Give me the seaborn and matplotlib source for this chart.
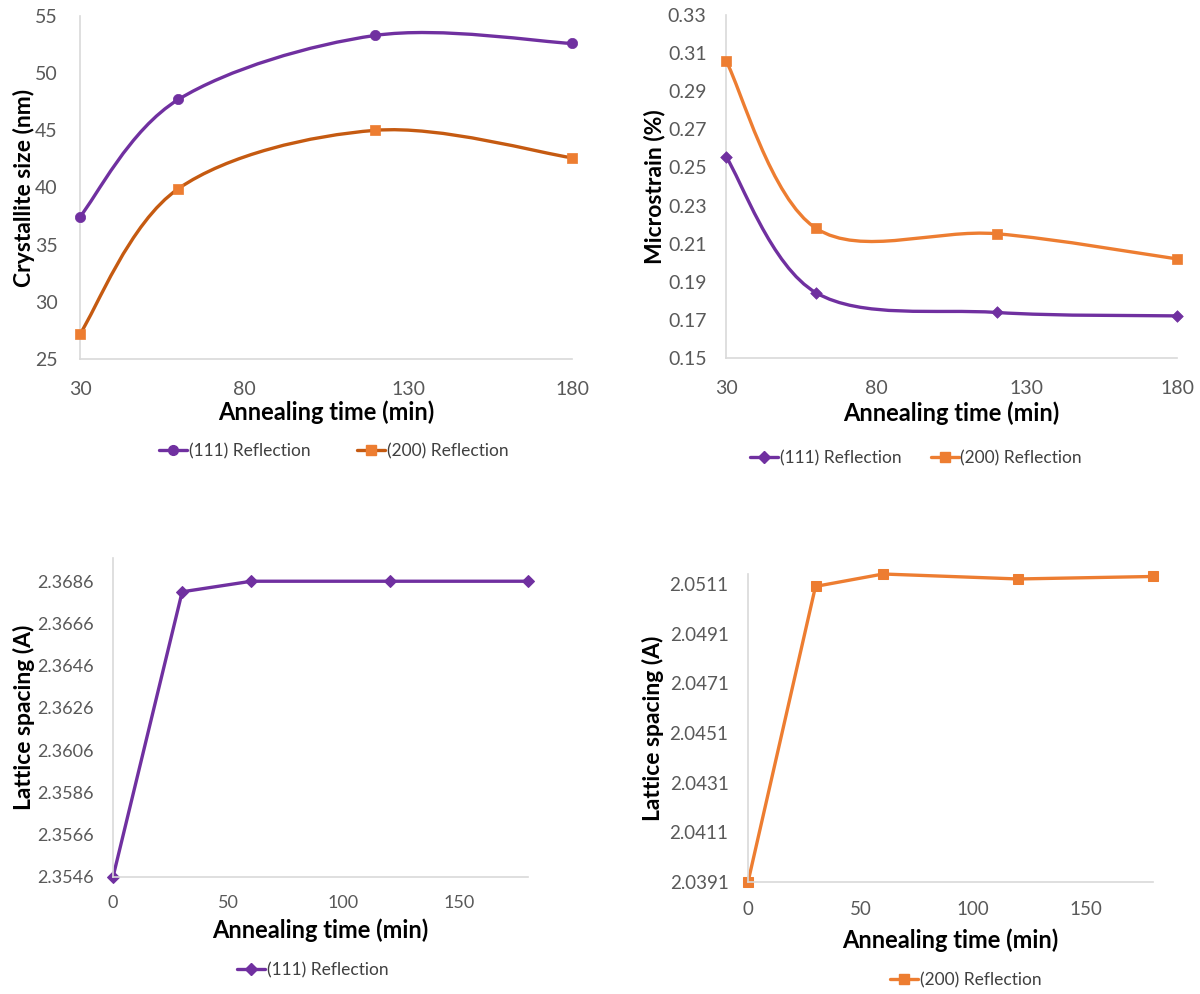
import numpy as np
import matplotlib
matplotlib.use("Agg")
import matplotlib.pyplot as plt
from matplotlib.path import Path
from matplotlib.patches import PathPatch
from matplotlib.lines import Line2D
import seaborn as sns

# ---- data -------------------------------------------------------------
time_top = [30, 60, 120, 180]
size_111 = [37.45, 47.7, 53.3, 52.6]
size_200 = [27.2, 39.9, 45.0, 42.6]
strain_111 = [0.2557, 0.1842, 0.1739, 0.1721]
strain_200 = [0.306, 0.218, 0.2152, 0.2020]

time_bottom = [0, 30, 60, 120, 180]
spacing_111 = [2.3546, 2.3681, 2.3686, 2.3686, 2.3686]
spacing_200 = [2.0391, 2.0510, 2.0515, 2.0513, 2.0514]

series_labels = ["(111) Reflection", "(200) Reflection"]
x_title = "Annealing time (min)"
y_titles = ["Crystallite size (nm)", "Microstrain (%)",
            "Lattice spacing (A)", "Lattice spacing (A)"]

top_xticks = [30, 80, 130, 180]
bottom_xticks = [0, 50, 100, 150]
size_ticks = [25, 30, 35, 40, 45, 50, 55]
strain_ticks = [0.15, 0.17, 0.19, 0.21, 0.23, 0.25, 0.27, 0.29, 0.31, 0.33]
spacing_111_ticks = [2.3546, 2.3566, 2.3586, 2.3606, 2.3626, 2.3646, 2.3666, 2.3686]
spacing_200_ticks = [2.0391, 2.0411, 2.0431, 2.0451, 2.0471, 2.0491, 2.0511]

# ---- style ------------------------------------------------------------
PURPLE = "#7030A0"
ORANGE = "#ED7D31"
BURNT = "#C55A11"
TICK_GREY = "#595959"
LEGEND_GREY = "#404040"
AXIS_GREY = "#D9D9D9"

W, H = 1200, 994
sns.set_theme(style="white")
plt.rcParams["font.family"] = ["Lato", "DejaVu Sans"]

fig = plt.figure(figsize=(W / 100, H / 100), dpi=100)


def px_axes(left, top, right, bottom):
    return fig.add_axes([left / W, 1 - bottom / H, (right - left) / W, (bottom - top) / H])


def smooth_path(x, y):
    """Bezier path through the points with Catmull-Rom style tangents."""
    pts = np.column_stack([x, y]).astype(float)
    n = len(pts)
    verts = [pts[0]]
    codes = [Path.MOVETO]
    for i in range(n - 1):
        p_prev = pts[max(i - 1, 0)]
        p0, p1 = pts[i], pts[i + 1]
        p_next = pts[min(i + 2, n - 1)]
        verts += [p0 + (p1 - p_prev) / 6, p1 - (p_next - p0) / 6, p1]
        codes += [Path.CURVE4] * 3
    return Path(verts, codes)


def style_axes(ax, xlim, xticks, ylim, yticks, fmt, xpad, ypad, size=14):
    ax.set_xlim(xlim)
    ax.set_ylim(ylim)
    ax.set_xticks(xticks)
    ax.set_yticks(yticks)
    ax.set_yticklabels([fmt.format(v) for v in yticks])
    for s in ["top", "right"]:
        ax.spines[s].set_visible(False)
    for s in ["left", "bottom"]:
        ax.spines[s].set_color(AXIS_GREY)
        ax.spines[s].set_linewidth(1.2)
    ax.tick_params(axis="both", length=0, labelsize=size, labelcolor=TICK_GREY)
    ax.tick_params(axis="x", pad=xpad)
    ax.tick_params(axis="y", pad=ypad)
    ax.grid(False)


def titles(ax, ylabel, ylab_x, xlab_y):
    ax.set_xlabel(x_title, fontsize=17, fontweight="bold", color="black")
    ax.set_ylabel(ylabel, fontsize=16.5, fontweight="bold", color="black")
    bb = ax.get_position()
    ax.xaxis.set_label_coords((bb.x0 + bb.x1) / 2, 1 - xlab_y / H, transform=fig.transFigure)
    ax.yaxis.set_label_coords(ylab_x / W, (bb.y0 + bb.y1) / 2, transform=fig.transFigure)
    ax.xaxis.label.set_va("center")
    ax.yaxis.label.set_va("center")


def smooth_series(ax, x, y, line_color, marker, marker_color, msize):
    ax.add_patch(PathPatch(smooth_path(x, y), fill=False, edgecolor=line_color,
                           lw=2.4, capstyle="round", joinstyle="round", zorder=2))
    sns.scatterplot(x=x, y=y, ax=ax, marker=marker, s=msize, color=marker_color,
                    edgecolor=marker_color, linewidth=0.5, zorder=3, clip_on=False,
                    legend=False)


def legend_handle(line_color, marker, marker_color, msize):
    return Line2D([], [], color=line_color, lw=2.4, marker=marker, markersize=msize,
                  markerfacecolor=marker_color, markeredgecolor=marker_color)


def place_legend(handles, labels, cx, cy, spacing=2.0):
    fig.legend(handles, labels, loc="center", bbox_to_anchor=(cx / W, 1 - cy / H),
               ncol=len(handles), frameon=False, fontsize=12.5, handlelength=1.6,
               handletextpad=0.1, columnspacing=spacing, labelcolor=LEGEND_GREY)


# ---- crystallite size -------------------------------------------------
ax1 = px_axes(80, 16, 572, 359)
smooth_series(ax1, time_top, size_111, PURPLE, "o", PURPLE, 55)
smooth_series(ax1, time_top, size_200, BURNT, "s", ORANGE, 50)
style_axes(ax1, (30, 180), top_xticks, (25, 55), size_ticks, "{:.0f}", 16, 16)
titles(ax1, y_titles[0], 24, 412)
place_legend([legend_handle(PURPLE, "o", PURPLE, 7), legend_handle(BURNT, "s", ORANGE, 7)],
             series_labels, 334, 451, spacing=2.7)

# ---- microstrain ------------------------------------------------------
ax2 = px_axes(726, 15, 1177, 358)
smooth_series(ax2, time_top, strain_111, PURPLE, "D", PURPLE, 35)
smooth_series(ax2, time_top, strain_200, ORANGE, "s", ORANGE, 50)
style_axes(ax2, (30, 180), top_xticks, (0.15, 0.33), strain_ticks, "{:.2f}", 16, 14)
titles(ax2, y_titles[1], 655, 413)
place_legend([legend_handle(PURPLE, "D", PURPLE, 6), legend_handle(ORANGE, "s", ORANGE, 7)],
             series_labels, 916, 458, spacing=1.7)

# ---- lattice spacing (111) -------------------------------------------
ax3 = px_axes(113, 558, 528, 877)
sns.lineplot(x=time_bottom, y=spacing_111, ax=ax3, color=PURPLE, lw=2.4, marker="D",
             markersize=6, markeredgecolor=PURPLE, clip_on=False, legend=False)
style_axes(ax3, (0, 180), bottom_xticks, (2.3546, 2.3697), spacing_111_ticks,
           "{:.4f}", 13, 14, size=13)
titles(ax3, y_titles[2], 24, 930)
place_legend([legend_handle(PURPLE, "D", PURPLE, 6)], series_labels[:1], 313, 970)

# ---- lattice spacing (200) -------------------------------------------
ax4 = px_axes(748, 574, 1153, 882)
sns.lineplot(x=time_bottom, y=spacing_200, ax=ax4, color=ORANGE, lw=2.4, marker="s",
             markersize=7, markeredgecolor=ORANGE, clip_on=False, legend=False)
style_axes(ax4, (0, 180), bottom_xticks, (2.0391, 2.0515), spacing_200_ticks,
           "{:.4f}", 14, 14, size=13.5)
titles(ax4, y_titles[3], 653, 940)
place_legend([legend_handle(ORANGE, "s", ORANGE, 7)], series_labels[1:], 966, 980)

fig.savefig("out.png", dpi=100, facecolor="white")
